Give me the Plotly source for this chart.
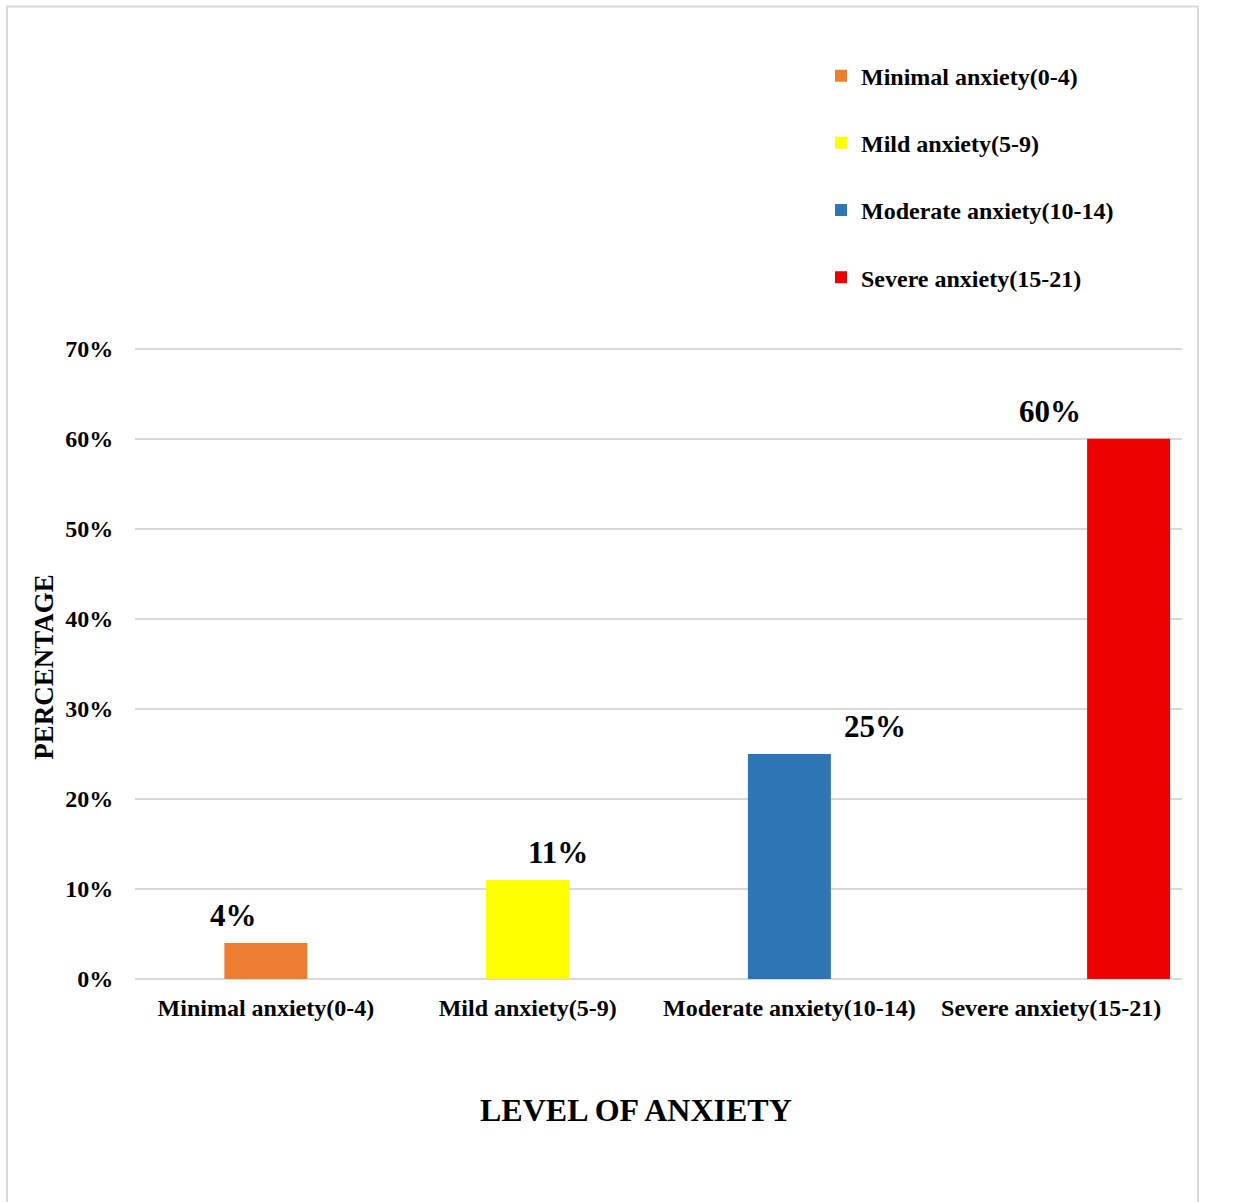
import plotly.graph_objects as go

# Anxiety level distribution (share of respondents)
categories = ["Minimal anxiety(0-4)", "Mild anxiety(5-9)",
              "Moderate anxiety(10-14)", "Severe anxiety(15-21)"]
percentages = [0.04, 0.11, 0.25, 0.60]
label_texts = ["4%", "11%", "25%", "60%"]
y_ticks = [0.0, 0.1, 0.2, 0.3, 0.4, 0.5, 0.6, 0.7]
y_tick_labels = ["0%", "10%", "20%", "30%", "40%", "50%", "60%", "70%"]

colors = ["#ED7D31", "#FFFF00", "#2E75B6", "#EC0000"]
bar_width = 0.317
bar_offsets = [-0.1585, -0.1585, -0.1585, 0.1375]
label_xshift = [-32, 30, 86, -1]

FONT = "Liberation Serif"
GRID = "#d9d9d9"

# plot area: 0% at y=979 px, 70% at y=349 px; range padded slightly so the
# 70% gridline is kept inside the plotting area
Y_MAX = 0.703
PX_PER_UNIT = 630 / 0.7
TOP = 979 - Y_MAX * PX_PER_UNIT
H_PLOT = 979 - TOP

fig = go.Figure()
for i, (cat, val) in enumerate(zip(categories, percentages)):
    fig.add_trace(go.Bar(
        x=[cat], y=[val], name=cat,
        marker=dict(color=colors[i], line=dict(width=0)),
        width=bar_width, offset=bar_offsets[i],
        legendgroup=f"g{i}",
        hoverinfo="x+y",
    ))

# value labels above the bars
for i, (cat, val, txt) in enumerate(zip(categories, percentages, label_texts)):
    fig.add_annotation(
        x=cat, y=val, xref="x", yref="y", text=f"<b>{txt}</b>",
        showarrow=False, xanchor="center", yanchor="middle",
        xshift=label_xshift[i], yshift=27.5,
        font=dict(family=FONT, size=31, color="black"),
    )

# axis titles
fig.add_annotation(
    x=(636 - 135) / 1047, y=(979 - 1110) / H_PLOT, xref="paper", yref="paper",
    text="<b>LEVEL OF ANXIETY</b>", showarrow=False,
    xanchor="center", yanchor="middle",
    font=dict(family=FONT, size=32, color="black"),
)
fig.add_annotation(
    x=(44 - 135) / 1047, y=(979 - 667) / H_PLOT, xref="paper", yref="paper",
    text="<b>PERCENTAGE</b>", showarrow=False, textangle=-90,
    xanchor="center", yanchor="middle",
    font=dict(family=FONT, size=27, color="black"),
)

# outer chart frame
fig.add_shape(
    type="rect", xref="paper", yref="paper",
    x0=(7 - 135) / 1047, x1=(1198 - 135) / 1047,
    y0=(979 - 1220) / H_PLOT, y1=(979 - 7) / H_PLOT,
    line=dict(color=GRID, width=2), fillcolor="rgba(0,0,0,0)", layer="below",
)

fig.update_layout(
    width=1259, height=1202,
    margin=dict(l=135, r=77, t=TOP, b=223, autoexpand=False),
    paper_bgcolor="white", plot_bgcolor="white",
    barmode="overlay",
    font=dict(family=FONT, color="black"),
    showlegend=True,
    legend=dict(
        x=(821 - 135) / 1047, y=(979 - 54) / H_PLOT,
        xanchor="left", yanchor="top",
        traceorder="grouped", tracegroupgap=33,
        font=dict(family=FONT, size=24, color="black", weight="bold"),
        bgcolor="rgba(0,0,0,0)",
    ),
    xaxis=dict(
        type="category", categoryorder="array", categoryarray=categories,
        showgrid=False, showline=False, zeroline=False,
        ticks="outside", ticklen=7, tickcolor="rgba(0,0,0,0)",
        tickfont=dict(family=FONT, size=24, color="black", weight="bold"),
    ),
    yaxis=dict(
        range=[0, Y_MAX], tickvals=y_ticks, ticktext=y_tick_labels,
        showgrid=True, gridcolor=GRID, gridwidth=1.5,
        zeroline=True, zerolinecolor=GRID, zerolinewidth=1.5,
        showline=False,
        ticks="outside", ticklen=16, tickcolor="rgba(0,0,0,0)",
        tickfont=dict(family=FONT, size=24, color="black", weight="bold"),
    ),
)

fig.write_html("out.html")
